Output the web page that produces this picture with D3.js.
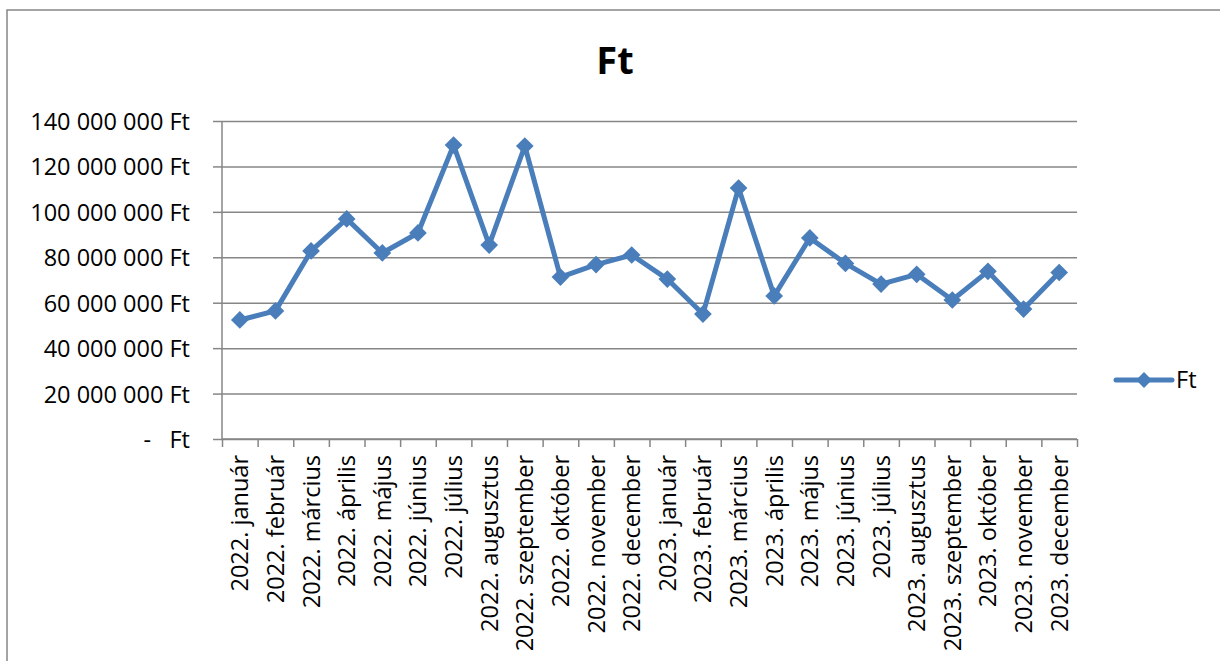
<!DOCTYPE html>
<html>
<head>
<meta charset="utf-8">
<script src="https://cdn.jsdelivr.net/npm/d3@7"></script>
<style>
  body { margin: 0; background: #fff; }
  text { font-family: "Open Sans", sans-serif; fill: #000; }
  .axis path, .axis line { stroke: #868686; stroke-width: 1.5; }
  .grid line { stroke: #868686; stroke-width: 1.5; }
  .grid path { display: none; }
</style>
</head>
<body>
<div id="chart"></div>
<script>
const months = [
  "2022. január", "2022. február", "2022. március", "2022. április", "2022. május", "2022. június",
  "2022. július", "2022. augusztus", "2022. szeptember", "2022. október", "2022. november", "2022. december",
  "2023. január", "2023. február", "2023. március", "2023. április", "2023. május", "2023. június",
  "2023. július", "2023. augusztus", "2023. szeptember", "2023. október", "2023. november", "2023. december"
]
const values = [
  52400000, 56400000, 82800000, 96900000, 81900000, 90700000,
  129400000, 85400000, 129000000, 71300000, 76800000, 81000000,
  70400000, 55000000, 110500000, 63000000, 88500000, 77300000,
  68200000, 72500000, 61200000, 73800000, 57200000, 73300000
]
const yTicks = [0, 20000000, 40000000, 60000000, 80000000, 100000000, 120000000, 140000000]
const seriesName = "Ft"

const blue = "#4a7ebb"

const dims = { width: 1220, height: 661, left: 222, right: 1077, top: 121, bottom: 439 }

const svg = d3.select('#chart')
  .append('svg')
  .attr('width', dims.width)
  .attr('height', dims.height)

// chart frame
svg.append('rect')
  .attr('x', 7).attr('y', 10)
  .attr('width', 1240).attr('height', 700)
  .attr('fill', 'none')
  .attr('stroke', '#868686')
  .attr('stroke-width', 1.5)

// title
svg.append('text')
  .attr('x', 615).attr('y', 74)
  .attr('text-anchor', 'middle')
  .style('font-size', '38px')
  .style('font-weight', 'bold')
  .text(seriesName)

// scales
const xScale = d3.scaleBand()
  .domain(months)
  .range([dims.left, dims.right])

const xEdge = d3.scaleLinear()
  .domain([0, months.length])
  .range([dims.left, dims.right])

const yScale = d3.scaleLinear()
  .domain([0, 140000000])
  .range([dims.bottom, dims.top])

const huf = d3.formatLocale({ decimal: ",", thousands: " ", grouping: [3], currency: ["", " Ft"] })
const fmt = d => d === 0 ? "-   Ft" : huf.format(",.0f")(d) + " Ft"

// gridlines
svg.append('g')
  .classed('grid', true)
  .attr('transform', `translate(${dims.left}, 0)`)
  .call(d3.axisLeft(yScale).tickValues(yTicks).tickSize(-(dims.right - dims.left)).tickFormat(''))

// y axis
const yAxisGroup = svg.append('g')
  .classed('axis', true)
  .attr('transform', `translate(${dims.left}, 0)`)
  .call(d3.axisLeft(yScale).tickValues(yTicks).tickSize(9).tickPadding(23).tickFormat(fmt))
yAxisGroup.select('.domain').attr('d', `M0,${dims.bottom}V${dims.top}`)
yAxisGroup.selectAll('text')
  .style('font-size', '23.5px')
  .style('white-space', 'pre')
  .attr('dy', '0.36em')

// x axis: boundary ticks
const xTickGroup = svg.append('g')
  .classed('axis', true)
  .attr('transform', `translate(0, ${dims.bottom})`)
  .call(d3.axisBottom(xEdge).ticks(months.length).tickSize(8).tickFormat(''))
xTickGroup.select('.domain').attr('d', `M${dims.left},0H${dims.right}`)

// x labels
const xLabelGroup = svg.append('g')
  .attr('transform', `translate(0, ${dims.bottom})`)
  .call(d3.axisBottom(xScale).tickSize(0).tickPadding(0))
xLabelGroup.select('.domain').remove()
xLabelGroup.selectAll('text')
  .style('font-size', '23.5px')
  .attr('text-anchor', 'end')
  .attr('transform', 'rotate(-90)')
  .attr('x', -16)
  .attr('y', 0)
  .attr('dy', '0.36em')

// line
const xCenter = (d, i) => xScale(months[i]) + xScale.bandwidth() / 2
const line = d3.line()
  .x(xCenter)
  .y(d => yScale(d))

svg.append('path')
  .datum(values)
  .attr('fill', 'none')
  .attr('stroke', blue)
  .attr('stroke-width', 5)
  .attr('stroke-linejoin', 'round')
  .attr('d', line)

const diamond = d3.symbol().type(d3.symbolDiamond2).size(200)

svg.append('g')
  .selectAll('path')
  .data(values)
  .join('path')
  .attr('transform', (d, i) => `translate(${xCenter(d, i)}, ${yScale(d)})`)
  .attr('d', diamond)
  .attr('fill', blue)

// legend
const legend = svg.append('g').attr('transform', 'translate(1116, 380)')
legend.append('line')
  .attr('x1', 0).attr('x2', 56)
  .attr('stroke', blue).attr('stroke-width', 5).attr('stroke-linecap', 'round')
legend.append('path')
  .attr('transform', 'translate(28, 0)')
  .attr('d', d3.symbol().type(d3.symbolDiamond2).size(160))
  .attr('fill', blue)
legend.append('text')
  .attr('x', 60).attr('dy', '0.36em')
  .style('font-size', '23.5px')
  .text(seriesName)
</script>
</body>
</html>
